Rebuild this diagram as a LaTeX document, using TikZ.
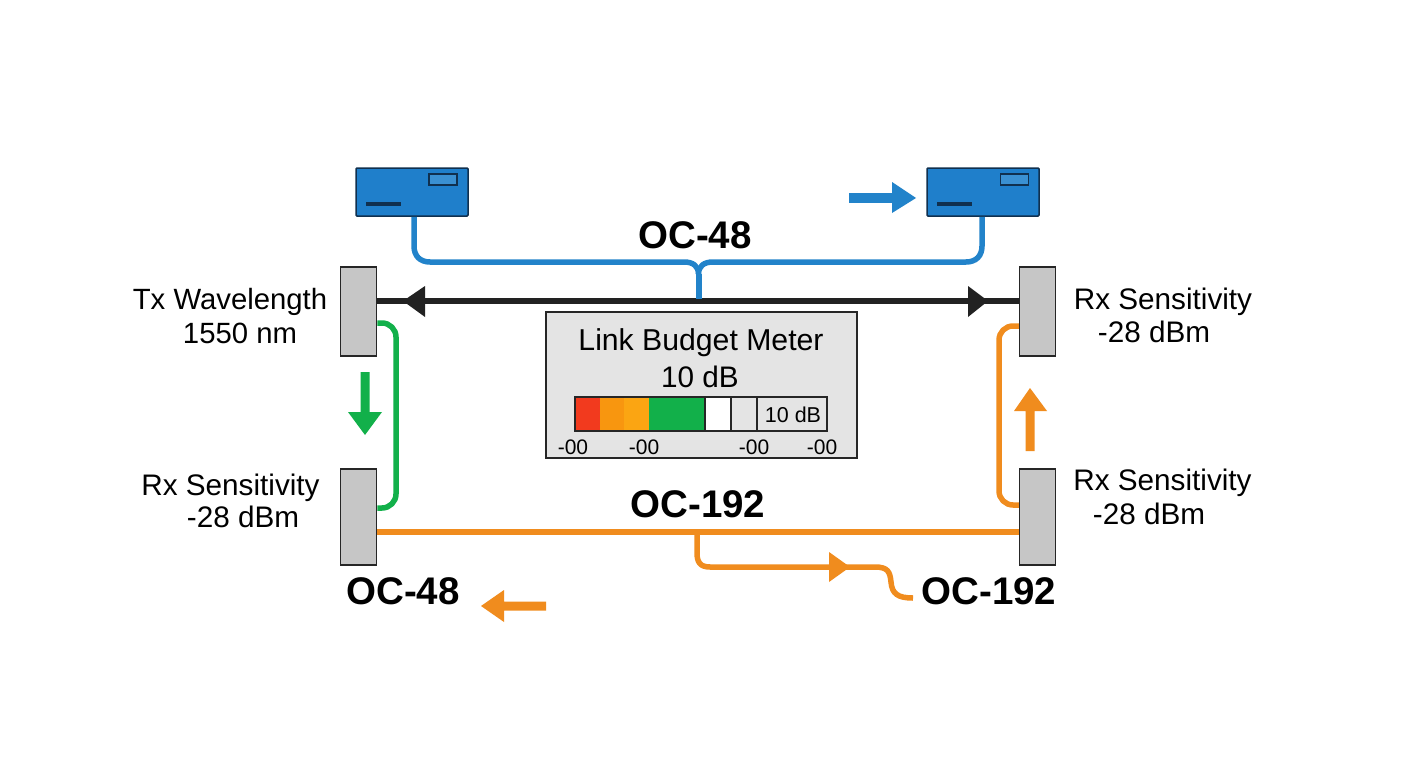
\documentclass[tikz,border=0pt]{standalone}
\usepackage{fontspec}
\setmainfont{Liberation Sans}
\usetikzlibrary{calc}
\definecolor{blueC}{HTML}{2283CA}
\definecolor{devC}{HTML}{1F7FCB}
\definecolor{slotC}{HTML}{3A90D2}
\definecolor{devD}{HTML}{10304F}
\definecolor{greenC}{HTML}{12B04A}
\definecolor{orangeC}{HTML}{F08C1E}
\definecolor{blackC}{HTML}{222222}
\definecolor{grayC}{HTML}{C6C6C6}
\definecolor{panelC}{HTML}{E4E4E4}
\definecolor{segA}{HTML}{F23A1E}
\definecolor{segB}{HTML}{F8960F}
\definecolor{segC}{HTML}{FBA512}
\tikzset{
  device/.style={draw=devD,line width=1.5pt,fill=devC,rounded corners=1pt,minimum width=112pt,minimum height=48pt,inner sep=0pt},
  devslot/.style={draw=devD,line width=1.3pt,fill=slotC,minimum width=28pt,minimum height=11pt,inner sep=0pt},
  devbar/.style={fill=devD,minimum width=35pt,minimum height=4pt,inner sep=0pt},
  terminal/.style={draw=black!85,line width=1.5pt,fill=grayC,minimum width=36pt,inner sep=0pt},
  panel/.style={draw=black!85,line width=1.5pt,fill=panelC,minimum width=311pt,minimum height=146pt,inner sep=0pt},
  seg/.style={draw=none,minimum height=34pt,inner sep=0pt},
  celltxt/.style={font=\fontsize{21}{24}\selectfont,anchor=base,inner sep=0pt},
  lab/.style={font=\fontsize{29.7}{34}\selectfont,anchor=base,inner sep=0pt},
  head/.style={font=\fontsize{38.5}{44}\selectfont\bfseries,anchor=base,inner sep=0pt},
  wire/.style={line width=5.5pt,rounded corners=14pt},
  curvewire/.style={line width=5.5pt,line join=round}
}
\begin{document}
\begin{tikzpicture}[x=1pt,y=-1pt]
\useasboundingbox (0,0) rectangle (1408,768);
\fill[white] (0,0) rectangle (1408,768);

\node[device] (devL) at (412,192) {};
\node[device] (devR) at (983,192) {};
\node[terminal,minimum height=89pt] (tl) at (358.5,311.5) {};
\node[terminal,minimum height=96pt] (bl) at (358.5,517) {};
\node[terminal,minimum height=89pt] (tr) at (1037.5,311.5) {};
\node[terminal,minimum height=96pt] (br) at (1037.5,517) {};
\coordinate (junc) at (698.5,274);
\coordinate (tailEnd) at (913,598);

\draw[curvewire,blueC] ([xshift=2pt]devL.south) -- (414,246) .. controls (414,256) and (420,262) .. (430,262)
  -- (684,262) .. controls (693,262) and (698.5,266) .. (junc);
\draw[curvewire,blueC] ([xshift=-1pt]devR.south) -- (982,246) .. controls (982,256) and (976,262) .. (966,262)
  -- (713,262) .. controls (704,262) and (698.5,266) .. (junc);
\draw[line width=6pt,blackC] ([yshift=10.5pt]tl.east) -- ([yshift=10.5pt]tr.west);
\draw[line width=6pt,blueC] (junc) -- (698.5,299);
\fill[blackC] (403,301) -- (425,286) -- (425,317) -- cycle;
\fill[blackC] (988,301) -- (968,286) -- (968,317) -- cycle;

\draw[wire,greenC] ([yshift=-11.5pt]tl.east) -| (396,415) |- ([yshift=9pt]bl.east);
\draw[wire,orangeC] ([yshift=12pt]br.west) -| (999,415) |- ([yshift=-14.5pt]tr.west);
\draw[line width=5.5pt,orangeC] ([yshift=-15pt]bl.east) -- ([yshift=-15pt]br.west);
\draw[curvewire,orangeC] (697,532) -- (697,553) .. controls (697,562) and (700,567) .. (710,567)
  -- (875,567) .. controls (888,567) and (890,572) .. (891,582) .. controls (892,594) and (898,598) .. (tailEnd);
\fill[orangeC] (850,567) -- (829,552) -- (829,582) -- cycle;

\node[devslot] (slotL) at (443,179.5) {};
\node[devslot] (slotR) at (1014.5,179.5) {};
\node[devbar] (barL) at (383.5,204) {};
\node[devbar] (barR) at (954.5,204) {};

\fill[blueC] (849,193.2) -- (892,193.2) -- (892,182) -- (916,198) -- (892,213) -- (892,202.8) -- (849,202.8) -- cycle;
\fill[greenC] (360.5,372) -- (369.5,372) -- (369.5,412) -- (382,412) -- (365,435) -- (348,412) -- (360.5,412) -- cycle;
\fill[orangeC] (1025.5,451) -- (1034.5,451) -- (1034.5,411) -- (1047,411) -- (1030,388) -- (1014,411) -- (1025.5,411) -- cycle;
\fill[orangeC] (546,601.5) -- (504,601.5) -- (504,590) -- (481,606) -- (504,622) -- (504,610.5) -- (546,610.5) -- cycle;

\node[panel] (meter) at (701.5,385) {};
\node[lab,font=\fontsize{30.2}{34}\selectfont] (mt1) at (701,350) {Link Budget Meter};
\node[lab] (mt2) at (700,387) {10 dB};
\node[seg,fill=segA,minimum width=25pt] (s1) at (587.5,414) {};
\node[seg,fill=segB,minimum width=24pt] (s2) at (612,414) {};
\node[seg,fill=segC,minimum width=25pt] (s3) at (636.5,414) {};
\node[seg,fill=greenC,minimum width=56pt] (s4) at (677,414) {};
\node[seg,fill=white,minimum width=26pt] (s5) at (718,414) {};
\node[seg,fill=panelC,minimum width=26pt] (s6) at (744,414) {};
\node[seg,fill=panelC,minimum width=70pt] (s7) at (792,414) {};
\draw[line width=1.4pt,black!85] (575,397) rectangle (827,431);
\draw[line width=1.4pt,black!85] (705,397) -- (705,431) (731,397) -- (731,431) (757,397) -- (757,431);
\node[celltxt,font=\fontsize{21.5}{24}\selectfont] (cellv) at (793,422) {10 dB};
\node[celltxt] (t1) at (573,454) {-00};
\node[celltxt] (t2) at (644,454) {-00};
\node[celltxt] (t3) at (754,454) {-00};
\node[celltxt] (t4) at (822,454) {-00};

\node[lab,font=\fontsize{29.3}{34}\selectfont] (a1) at (230,309) {Tx Wavelength};
\node[lab,font=\fontsize{29.3}{34}\selectfont] (a2) at (240,343) {1550 nm};
\node[lab] (b1) at (230.5,495) {Rx Sensitivity};
\node[lab] (b2) at (243,527) {-28 dBm};
\node[lab] (c1) at (1163,309) {Rx Sensitivity};
\node[lab] (c2) at (1154,342) {-28 dBm};
\node[lab] (d1) at (1162.5,490) {Rx Sensitivity};
\node[lab] (d2) at (1149,524) {-28 dBm};
\node[head] (h1) at (695,248) {OC-48};
\node[head] (h2) at (698,517) {OC-192};
\node[head] (h3) at (403,604) {OC-48};
\node[head] (h4) at (989,604) {OC-192};
\end{tikzpicture}
\end{document}
